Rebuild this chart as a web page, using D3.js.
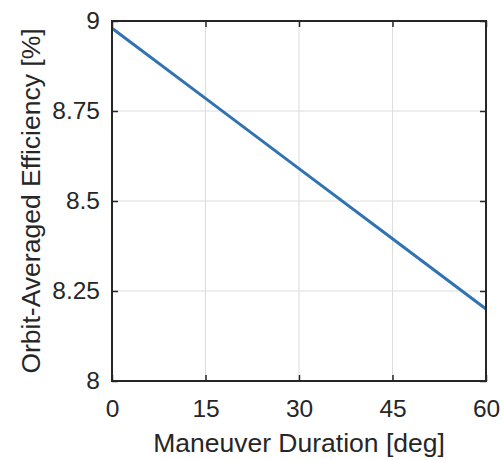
<!DOCTYPE html>
<html><head><meta charset="utf-8">
<script src="https://cdn.jsdelivr.net/npm/d3@7"></script>
<style>body{margin:0;background:#fff}svg{display:block}text{font-family:"Liberation Sans",Arial,sans-serif}</style>
</head><body>
<script>
const duration = [0, 15, 30, 45, 60];
const efficiency = [8.98, 8.785, 8.59, 8.395, 8.2];
const xTicks = [0, 15, 30, 45, 60];
const yTicks = [8, 8.25, 8.5, 8.75, 9];
const yTickLabels = ["8", "8.25", "8.5", "8.75", "9"];

const W = 501, H = 460;
const m = {left: 112, right: 15, top: 21, bottom: 79};
const svg = d3.select("body").append("svg").attr("width", W).attr("height", H);
const x = d3.scaleLinear().domain([0, 60]).range([m.left, W - m.right]);
const y = d3.scaleLinear().domain([8, 9]).range([H - m.bottom, m.top]);

// grid
const g = svg.append("g");
g.selectAll(".gx").data(xTicks).join("line")
  .attr("x1", d => x(d)).attr("x2", d => x(d)).attr("y1", y(8)).attr("y2", y(9))
  .attr("stroke", "#dcdcdc").attr("stroke-width", 1);
g.selectAll(".gy").data(yTicks).join("line")
  .attr("y1", d => y(d)).attr("y2", d => y(d)).attr("x1", x(0)).attr("x2", x(60))
  .attr("stroke", "#dcdcdc").attr("stroke-width", 1);

// line
svg.append("path").datum(duration.map((d, i) => [d, efficiency[i]]))
  .attr("fill", "none").attr("stroke", "#2f73b4").attr("stroke-width", 3)
  .attr("d", d3.line().x(d => x(d[0])).y(d => y(d[1])));

// axes
const fmtY = d => yTickLabels[yTicks.indexOf(d)];
const ax = (sel) => { sel.select(".domain").remove(); sel.selectAll("line").attr("stroke", "#262626").attr("stroke-width", 1.5); sel.selectAll("text").attr("fill", "#262626").style("font-size", "24.5px"); };
svg.append("g").attr("transform", `translate(0,${y(8)})`)
  .call(d3.axisBottom(x).tickValues(xTicks).tickSizeInner(-6).tickSizeOuter(0).tickPadding(19)).call(ax);
svg.append("g").attr("transform", `translate(0,${y(9)})`)
  .call(d3.axisTop(x).tickValues(xTicks).tickSizeInner(-6).tickSizeOuter(0).tickFormat("")).call(ax);
svg.append("g").attr("transform", `translate(${x(0)},0)`)
  .call(d3.axisLeft(y).tickValues(yTicks).tickFormat(fmtY).tickSizeInner(-6).tickSizeOuter(0).tickPadding(12)).call(ax);
svg.append("g").attr("transform", `translate(${x(60)},0)`)
  .call(d3.axisRight(y).tickValues(yTicks).tickSizeInner(-6).tickSizeOuter(0).tickFormat("")).call(ax);

// frame
svg.append("rect").attr("x", x(0)).attr("y", y(9)).attr("width", x(60) - x(0)).attr("height", y(8) - y(9))
  .attr("fill", "none").attr("stroke", "#262626").attr("stroke-width", 2);

// labels
svg.append("text").attr("x", (x(0) + x(60)) / 2).attr("y", 452).attr("text-anchor", "middle")
  .attr("fill", "#262626").style("font-size", "26.5px").text("Maneuver Duration [deg]");
svg.append("text").attr("transform", `translate(40,${(y(8) + y(9)) / 2}) rotate(-90)`).attr("text-anchor", "middle")
  .attr("fill", "#262626").style("font-size", "26.5px").text("Orbit-Averaged Efficiency [%]");
</script>
</body></html>
